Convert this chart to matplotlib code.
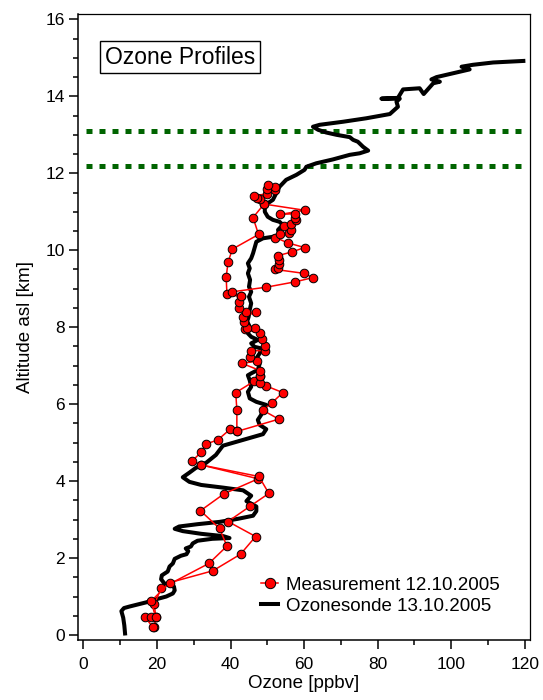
import numpy as np
import matplotlib
matplotlib.use('Agg')
import matplotlib.pyplot as plt
from matplotlib.ticker import MultipleLocator

plt.rcParams['font.family'] = ['Liberation Sans', 'DejaVu Sans']

# ozonesonde profile (ozone ppbv, altitude km)
sonde_ozone = [11.3, 11.1, 10.8, 10.3, 11.0, 12.5, 15.0, 17.1, 19.8, 22.5, 24.3, 24.8, 24.6, 22.0,
               21.1, 21.3, 22.9, 23.4, 24.3, 24.8, 26.5, 28.0, 28.5, 27.8, 29.2, 29.7, 31.0, 35.0,
               39.7, 38.0, 32.0, 27.0, 24.8, 26.0, 31.0, 37.0, 42.0, 46.1, 47.0, 47.0, 44.3, 45.6,
               43.4, 38.0, 32.0, 28.8, 27.0, 28.8, 30.5, 33.4, 36.0, 37.9, 41.5, 44.3, 48.8, 49.7,
               47.9, 47.4, 48.3, 48.8, 49.7, 47.0, 45.2, 44.7, 45.6, 45.2, 44.7, 45.6, 47.4, 47.9,
               47.0, 47.9, 48.3, 46.5, 45.6, 47.4, 45.6, 44.7, 45.2, 44.5, 44.9, 45.2, 45.6, 45.0,
               45.6, 45.0, 45.3, 44.7, 45.2, 44.7, 45.6, 46.1, 46.5, 47.0, 48.8, 51.5, 53.3, 52.9,
               54.2, 53.3, 51.5, 50.1, 49.3, 49.3, 50.1, 51.5, 52.4, 53.3, 55.1, 57.9, 60.1, 60.6,
               63.3, 67.8, 72.4, 75.1, 77.4, 76.0, 74.6, 73.3, 72.4, 68.8, 66.0, 63.8, 62.4, 64.2,
               70.6, 76.9, 83.3, 84.6, 85.5, 85.1, 86.0, 81.0, 85.5, 86.9, 91.4, 92.5, 95.1, 96.9,
               94.6, 96.0, 102.3, 105.0, 102.8, 105.9, 111.4, 119.6]
sonde_alt = [0.04, 0.25, 0.45, 0.62, 0.70, 0.74, 0.80, 0.85, 0.93, 1.00, 1.08, 1.16, 1.26, 1.34,
             1.45, 1.55, 1.65, 1.78, 1.86, 1.98, 2.06, 2.10, 2.18, 2.25, 2.30, 2.38, 2.45, 2.50,
             2.52, 2.57, 2.63, 2.70, 2.76, 2.82, 2.88, 2.94, 3.02, 3.10, 3.22, 3.34, 3.48, 3.62,
             3.76, 3.83, 3.90, 3.98, 4.10, 4.22, 4.34, 4.48, 4.68, 4.92, 5.02, 5.10, 5.22, 5.35,
             5.46, 5.59, 5.72, 5.88, 5.98, 6.06, 6.15, 6.32, 6.45, 6.62, 6.75, 6.80, 6.89, 7.05,
             7.19, 7.32, 7.45, 7.49, 7.58, 7.67, 7.75, 7.84, 8.01, 8.15, 8.27, 8.45, 8.62, 8.79,
             8.92, 9.05, 9.23, 9.40, 9.53, 9.66, 9.79, 9.92, 10.05, 10.22, 10.31, 10.35, 10.40, 10.53,
             10.66, 10.74, 10.79, 10.87, 11.00, 11.13, 11.22, 11.31, 11.48, 11.65, 11.83, 11.96, 12.09, 12.17,
             12.26, 12.36, 12.48, 12.52, 12.59, 12.69, 12.82, 12.87, 12.94, 13.00, 13.06, 13.13, 13.21, 13.26,
             13.34, 13.43, 13.54, 13.65, 13.73, 13.86, 13.94, 13.94, 13.96, 14.18, 14.21, 14.06, 14.34, 14.38,
             14.44, 14.50, 14.64, 14.70, 14.77, 14.82, 14.88, 14.92]

# measurement 12.10.2005, main trace
meas_ozone = [18.9, 16.6, 18.4, 19.6, 18.4, 23.4, 35.2, 42.7, 46.8, 39.3, 45.2, 50.4, 47.7, 32.0,
              29.6, 32.0, 33.2, 36.5, 39.9, 41.7, 53.1, 48.8, 51.3, 54.2, 49.5, 48.1, 47.9, 48.1,
              43.1, 47.3, 45.4, 45.6, 49.3, 49.3, 48.5, 47.9, 43.8, 46.5, 44.5, 43.6, 43.4, 47.0,
              44.3, 42.2, 42.4, 42.7, 40.5, 49.7, 57.6, 62.4, 59.9, 52.2, 52.9, 53.1, 53.1, 52.9,
              56.8, 60.1, 55.6, 52.2, 53.5, 55.9, 56.3, 54.4, 56.3, 57.9, 57.4, 57.4, 53.5, 60.1,
              49.1, 48.1, 47.2, 46.3, 49.9, 52.2, 49.9, 52.0, 50.2]
meas_alt = [0.20, 0.48, 0.48, 0.46, 0.88, 1.36, 1.67, 2.10, 2.56, 2.95, 3.34, 3.68, 4.12, 4.42,
            4.53, 4.75, 4.96, 5.07, 5.35, 5.29, 5.61, 5.84, 6.04, 6.30, 6.48, 6.54, 6.73, 6.87,
            7.06, 7.12, 7.23, 7.39, 7.39, 7.52, 7.69, 7.84, 7.95, 7.99, 7.97, 8.13, 8.27, 8.39,
            8.39, 8.51, 8.65, 8.80, 8.92, 9.04, 9.18, 9.29, 9.40, 9.50, 9.55, 9.64, 9.75, 9.86,
            9.96, 10.07, 10.19, 10.33, 10.41, 10.45, 10.52, 10.62, 10.69, 10.78, 10.84, 10.95, 10.93, 11.04,
            11.20, 11.34, 11.36, 11.41, 11.47, 11.56, 11.60, 11.65, 11.69]

# second branches of the measurement trace
branch1_ozone = [19.3, 19.6, 19.3, 21.1, 34.1, 39.0, 37.0, 31.8, 38.2, 47.5, 32.0]
branch1_alt = [0.20, 0.46, 0.81, 1.21, 1.86, 2.31, 2.77, 3.23, 3.67, 4.06, 4.42]
branch2_ozone = [41.7, 41.7, 41.4, 46.3, 47.9]
branch2_alt = [5.29, 5.85, 6.30, 6.59, 6.73]
branch3_ozone = [42.7, 39.0, 38.8, 39.3, 40.5, 47.6, 46.1, 49.1]
branch3_alt = [8.80, 8.86, 9.30, 9.69, 10.03, 10.41, 10.85, 11.20]

green_alt = [12.2, 13.1]

fig = plt.figure(figsize=(5.43, 7.0), dpi=100)
ax = fig.add_axes([0.1436, 0.0857, 0.976 - 0.1436, 0.98 - 0.0857])

ax.hlines(green_alt, 0.8, 120, colors='#006400', linewidth=3.6,
          linestyles=[(0, (1.2, 1.4))])

mstyle = dict(color='#ff0000', lw=1.1, marker='o', ms=6.2, mfc='#ff0000', mec='black', mew=0.7)
for bo, ba in [(branch1_ozone, branch1_alt), (branch2_ozone, branch2_alt), (branch3_ozone, branch3_alt)]:
    ax.plot(bo, ba, **mstyle, zorder=3)
ax.plot(meas_ozone, meas_alt, label='Measurement 12.10.2005', **mstyle, zorder=3)
ax.plot(sonde_ozone, sonde_alt, color='black', lw=2.9, solid_joinstyle='round',
        label='Ozonesonde 13.10.2005', zorder=2)

ax.set_xlim(-1.5, 121.4)
ax.set_ylim(-0.13, 16.14)
ax.xaxis.set_major_locator(MultipleLocator(20))
ax.xaxis.set_minor_locator(MultipleLocator(10))
ax.yaxis.set_major_locator(MultipleLocator(2))
ax.yaxis.set_minor_locator(MultipleLocator(0.5))
ax.tick_params(which='both', direction='out', width=1.1, labelsize=12.5, top=False, right=False)
ax.tick_params(which='major', length=6.5)
ax.tick_params(which='minor', length=3.5)
ax.tick_params(axis='x', pad=6)
ax.tick_params(axis='y', pad=3)
for s in ['left', 'bottom']:
    ax.spines[s].set_linewidth(1.1)
for s in ['top', 'right']:
    ax.spines[s].set_linewidth(0.9)

ax.set_xlabel('Ozone [ppbv]', fontsize=13.5, labelpad=2)
ax.set_ylabel('Altitude asl [km]', fontsize=13.5, labelpad=8)

ax.text(0.2257, 0.931, 'Ozone Profiles', transform=ax.transAxes, ha='center', va='center',
        fontsize=16.5, bbox=dict(boxstyle='square,pad=0.2', fc='white', ec='black', lw=1))

leg = ax.legend(loc='upper left', bbox_to_anchor=(0.385, 0.116), frameon=False, fontsize=13.5,
                handlelength=0.9, handletextpad=0.4, labelspacing=0.2, borderpad=0,
                markerscale=1.2)

fig.savefig('out.png', dpi=100)
